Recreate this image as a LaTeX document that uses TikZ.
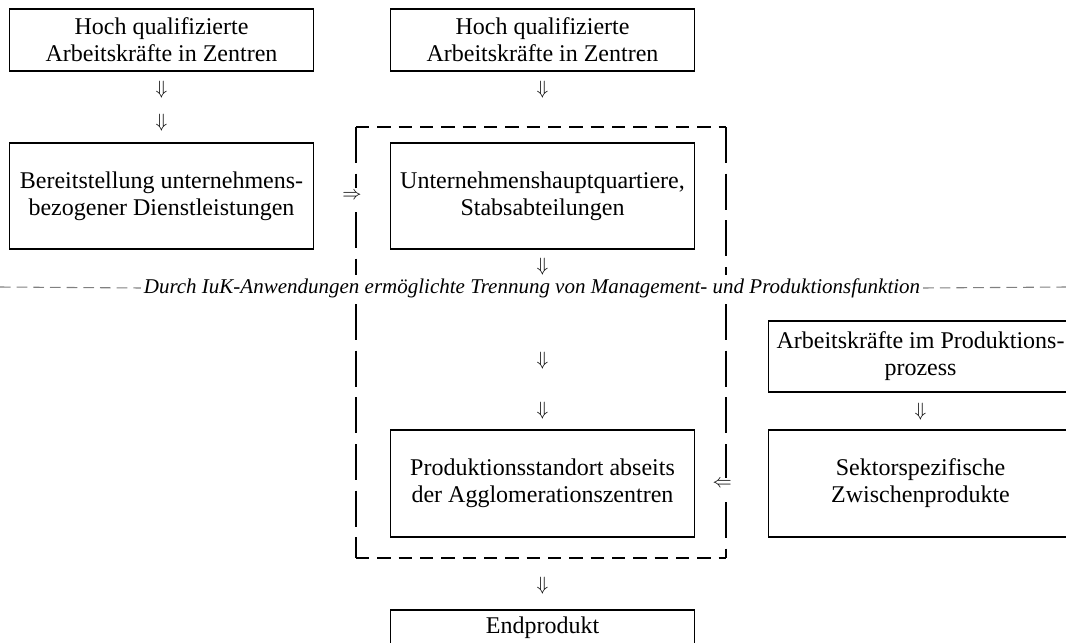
\documentclass[tikz,border=0pt]{standalone}
\usepackage{fontspec}
\setmainfont{Liberation Serif}
\tikzset{
  box/.style={draw, line width=1.4pt, align=center, minimum width=228pt, inner sep=3pt},
  arr/.style={inner sep=0pt, font=\fontsize{15}{18}\selectfont},
  vdash/.style={line width=1.2pt, dash pattern=on 27pt off 8pt},
  hdash/.style={line width=1.2pt, dash pattern=on 10pt off 6pt},
  sepline/.style={gray, line width=0.8pt, dash pattern=on 8pt off 4.5pt},
}
\begin{document}
\begin{tikzpicture}[x=0.75pt, y=-0.75pt, font=\fontsize{18}{20.25}\selectfont]
\clip (0,0) rectangle (1066,642);
% Kaesten
\node[box, minimum height=46.5pt] (hqL) at (161.5,40) {Hoch qualifizierte\\Arbeitskräfte in Zentren};
\node[box, minimum height=46.5pt] (hqM) at (542.5,40) {Hoch qualifizierte\\Arbeitskräfte in Zentren};
\node[box, minimum height=79.5pt] (bereit) at (161.5,196) {Bereitstellung unternehmens-\\bezogener Dienstleistungen};
\node[box, minimum height=79.5pt] (zentrale) at (542.5,196) {Unternehmenshauptquartiere,\\Stabsabteilungen};
\node[box, minimum height=53.25pt] (arbprod) at (920.5,356.5) {Arbeitskräfte im Produktions-\\prozess};
\node[box, minimum height=80pt] (standort) at (542.5,483.5) {Produktionsstandort abseits\\der Agglomerationszentren};
\node[box, minimum height=80pt] (sektor) at (920.5,483.5) {Sektorspezifische\\Zwischenprodukte};
\node[box, anchor=north, inner ysep=5pt, text depth=40pt] (endprod) at (542.5,609) {Endprodukt};
% Trennlinie
\node[font=\fontsize{15.75}{18}\selectfont\itshape, inner sep=2pt] (trenn) at (532,288) {Durch IuK-Anwendungen ermöglichte Trennung von Management- und Produktionsfunktion};
\coordinate (trennL) at (0,287);
\coordinate (trennR) at (1066,287);
\draw[sepline] (trennL) -- (trenn.west);
\draw[sepline] (trenn.east) -- (trennR);
% gestrichelter Rahmen
\draw[hdash] (356,127) -- (726,127);
\draw[hdash] (356,558) -- (726,558);
\draw[vdash] (356,127) -- (356,188);
\draw[vdash] (356,212) -- (356,275);
\draw[vdash] (356,304) -- (356,558);
\draw[vdash] (726,127) -- (726,275);
\draw[vdash] (726,304) -- (726,478);
\draw[vdash] (726,502) -- (726,558);
% Pfeile
\path (hqL) -- node[arr, pos=0.26]{$\Downarrow$} node[arr, pos=0.73]{$\Downarrow$} (bereit);
\path (hqM) -- node[arr, pos=0.26]{$\Downarrow$} (zentrale);
\path (bereit) -- node[arr, pos=0.5]{$\Rightarrow$} (zentrale);
\path (zentrale) -- node[arr, pos=0.095]{$\Downarrow$} node[arr, pos=0.62]{$\Downarrow$} node[arr, pos=0.895]{$\Downarrow$} (standort);
\path (arbprod) -- node[arr, pos=0.53]{$\Downarrow$} (sektor);
\path (sektor) -- node[arr, pos=0.63]{$\Leftarrow$} (standort);
\path (standort) -- node[arr, pos=0.67]{$\Downarrow$} (endprod);
\end{tikzpicture}
\end{document}
